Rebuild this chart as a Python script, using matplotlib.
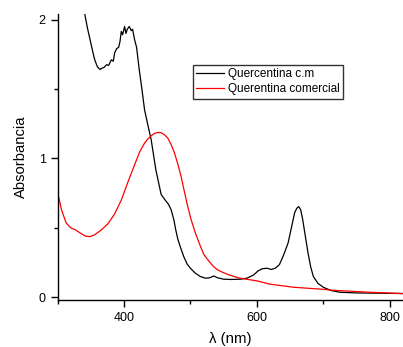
import numpy as np
import matplotlib
matplotlib.use('Agg')
from matplotlib import pyplot as plt
from matplotlib.ticker import MultipleLocator

plt.rcParams['font.family'] = ['Liberation Sans', 'DejaVu Sans']

# Quercentina c.m (black)
wl_cm = [336, 341, 345, 349, 353, 356, 360, 364, 367, 370, 374, 377, 381, 384,
         386, 389, 392, 394, 396, 398, 401, 403, 405, 408, 411, 413, 416, 419,
         423, 427, 431, 436, 441, 448, 456, 462, 467, 471, 475, 478, 481, 485,
         490, 495, 500, 507, 515, 523, 529, 535, 541, 550, 562, 575, 585, 595,
         602, 608, 615, 622, 628, 634, 640, 647, 652, 657, 660, 663, 666, 669,
         673, 677, 681, 685, 692, 700, 712, 725, 750, 800, 820]
abs_cm = [2.12, 2.04, 1.94, 1.855, 1.77, 1.71, 1.66, 1.64, 1.65, 1.655, 1.675,
          1.67, 1.71, 1.70, 1.76, 1.79, 1.80, 1.84, 1.915, 1.89, 1.95, 1.90,
          1.93, 1.95, 1.92, 1.93, 1.855, 1.80, 1.64, 1.50, 1.35, 1.24, 1.134,
          0.918, 0.74, 0.70, 0.67, 0.63, 0.56, 0.485, 0.42, 0.36, 0.293, 0.24,
          0.209, 0.175, 0.149, 0.137, 0.14, 0.153, 0.14, 0.13, 0.128, 0.13,
          0.137, 0.16, 0.19, 0.205, 0.209, 0.20, 0.21, 0.235, 0.30, 0.39, 0.50,
          0.61, 0.64, 0.653, 0.63, 0.56, 0.44, 0.32, 0.22, 0.15, 0.10, 0.072,
          0.048, 0.036, 0.031, 0.028, 0.027]

# Querentina comercial (red)
wl_com = [300, 306, 313, 320, 327, 335, 342, 349, 356, 366, 376, 386, 396,
          406, 416, 424, 431, 436, 441, 446, 451, 456, 461, 466, 471, 476,
          481, 486, 491, 496, 501, 507, 514, 520, 527, 534, 540, 546, 556,
          566, 575, 600, 620, 655, 700, 715, 770, 820]
abs_com = [0.76, 0.63, 0.535, 0.50, 0.485, 0.46, 0.44, 0.437, 0.45, 0.485,
           0.53, 0.60, 0.70, 0.83, 0.954, 1.05, 1.11, 1.14, 1.163, 1.18,
           1.187, 1.185, 1.17, 1.146, 1.10, 1.04, 0.96, 0.87, 0.76, 0.653,
           0.56, 0.47, 0.38, 0.31, 0.265, 0.225, 0.20, 0.185, 0.165, 0.149,
           0.137, 0.118, 0.094, 0.072, 0.057, 0.050, 0.036, 0.026]

fig = plt.figure(figsize=(4.03, 3.47), dpi=100)
ax = fig.add_axes([0.1427, 0.1354, 0.8573, 0.8243])

ax.plot(wl_cm, abs_cm, color='black', lw=0.9, label='Quercentina c.m')
ax.plot(wl_com, abs_com, color='red', lw=0.9, label='Querentina comercial')

ax.set_xlim(300, 820)
ax.set_ylim(-0.02, 2.04)
ax.xaxis.set_major_locator(MultipleLocator(200))
ax.xaxis.set_minor_locator(MultipleLocator(100))
ax.yaxis.set_major_locator(MultipleLocator(1))
ax.yaxis.set_minor_locator(MultipleLocator(0.5))
ax.tick_params(which='major', direction='out', length=5, width=1, labelsize=9)
ax.tick_params(which='minor', direction='out', length=3, width=1)
for s in ['top', 'right']:
    ax.spines[s].set_visible(False)
for s in ['left', 'bottom']:
    ax.spines[s].set_linewidth(1)

ax.set_xlabel('λ (nm)', fontsize=10.8, labelpad=6)
ax.set_ylabel('Absorbancia', fontsize=10.6, labelpad=8)

leg = ax.legend(loc='upper left', bbox_to_anchor=(0.392, 0.822), borderaxespad=0,
                fontsize=8.5, frameon=True, fancybox=False, handlelength=2.3,
                handletextpad=0.35, borderpad=0.3, labelspacing=0.25)
leg.get_frame().set_edgecolor('black')
leg.get_frame().set_linewidth(1)

fig.savefig('out.png', dpi=100)
